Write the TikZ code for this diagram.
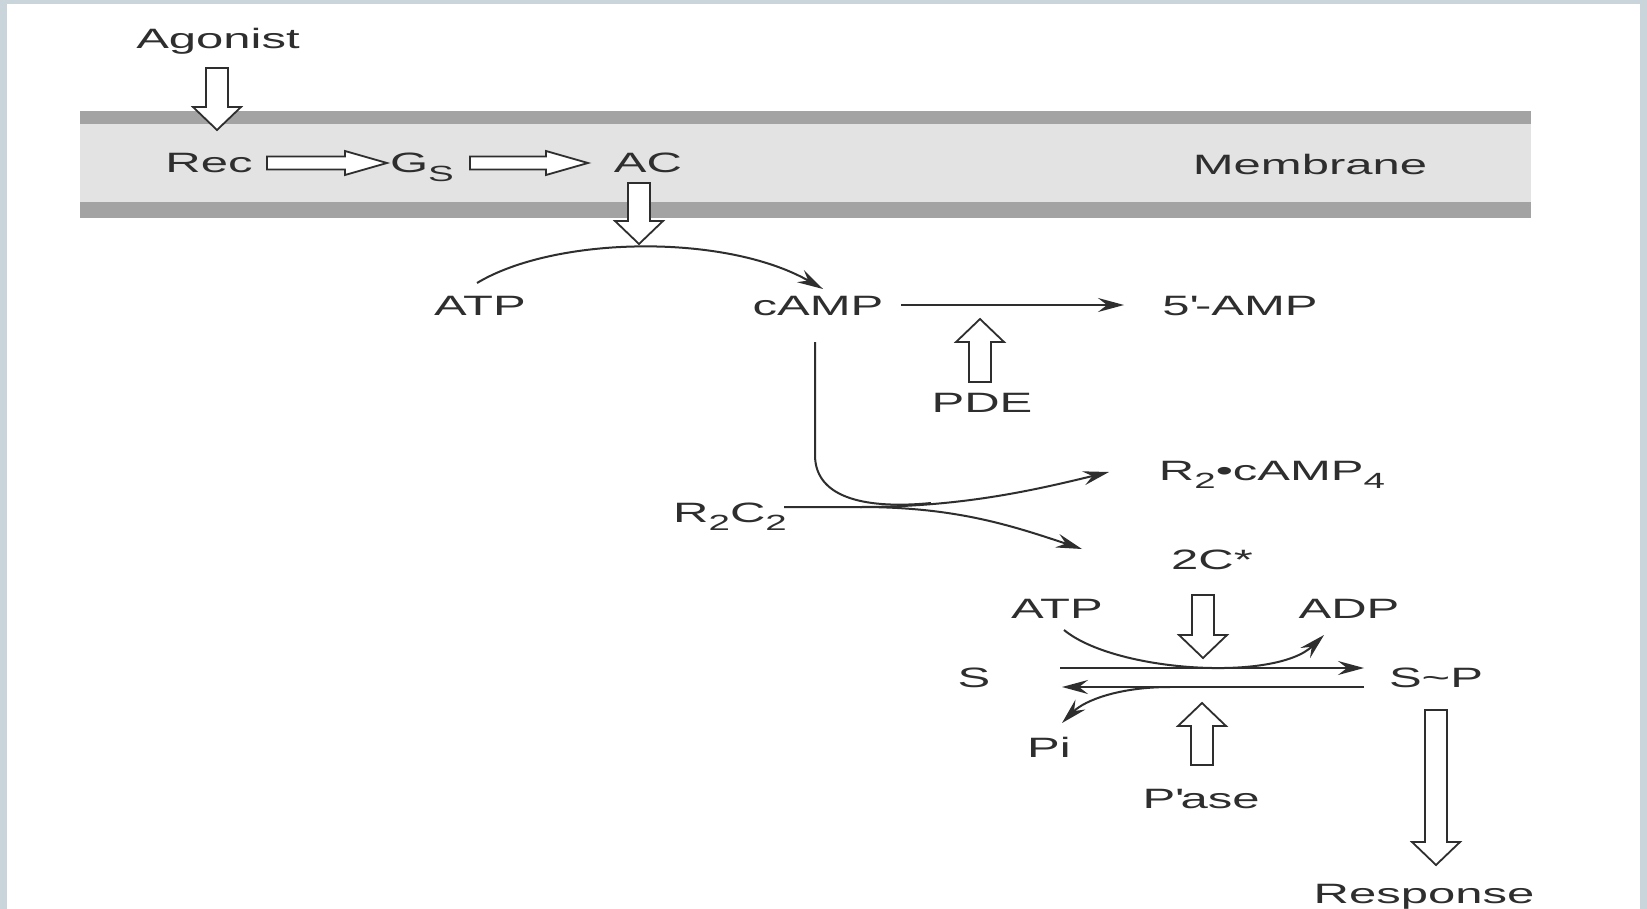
\documentclass[tikz,border=0pt]{standalone}
\usepackage{fontspec}
\setmainfont[FakeStretch=1.75]{Liberation Sans}
\usepackage{xcolor}
\usetikzlibrary{arrows.meta,positioning,calc}

\definecolor{framegrey}{HTML}{C9D4DB}
\definecolor{ink}{HTML}{2E2E2E}
\newcommand{\sub}[1]{\raisebox{-4.2pt}{\fontsize{11}{11}\selectfont #1}}

\begin{document}
\begin{tikzpicture}[
  x=0.5pt, y=-0.5pt,
  font=\fontsize{14}{16}\selectfont,
  lbl/.style={text=ink, inner sep=2pt, anchor=base},
  arr/.style={-{Stealth[length=13pt, width=7pt, inset=4.5pt]}, draw=ink, line width=1pt},
  link/.style={draw=ink, line width=1pt},
  block/.style={draw=ink, fill=white, line width=0.9pt, line join=miter},
  pics/downblock/.style={code={
    \draw[block] (-11,0) -- (11,0) -- (11,#1-23) -- (24,#1-23) -- (0,#1) -- (-24,#1-23) -- (-11,#1-23) -- cycle;
  }},
  pics/rightblock/.style={code={
    \draw[block] (0,-6.5) -- (#1-42,-6.5) -- (#1-42,-12) -- (#1,0) -- (#1-42,12) -- (#1-42,6.5) -- (0,6.5) -- cycle;
  }}
]
  % frame and membrane
  \useasboundingbox (0,0) rectangle (1647,909);
  \fill[framegrey] (0,0) rectangle (1647,909);
  \fill[white] (7,4) rectangle (1640,909);
  \fill[black!11] (80,111) rectangle (1531,218);
  \fill[black!36] (80,111) rectangle (1531,124);
  \fill[black!36] (80,202) rectangle (1531,218);

  % labels
  \node[lbl] (agonist) at (218,49) {Agonist};
  \node[lbl] (rec) at (209,173) {Rec};
  \node[lbl] (gs) at (422,173) {G\sub{S}};
  \node[lbl] (ac) at (648,173) {AC};
  \node[lbl] (membrane) at (1310,175) {Membrane};
  \node[lbl] (atp) at (480,315) {ATP};
  \node[lbl] (camp) at (818,315) {cAMP};
  \node[lbl] (amp) at (1240,315) {5\textquotesingle-AMP};
  \node[lbl] (pde) at (982,412) {PDE};
  \node[lbl] (rcc) at (730,522) {R\sub{2}C\sub{2}};
  \node[lbl] (rcamp) at (1272,480) {R\sub{2}\textbullet cAMP\sub{4}};
  \node[lbl] (cstar) at (1212,569) {2C*};
  \node[lbl] (atpb) at (1057,618) {ATP};
  \node[lbl] (adp) at (1349,618) {ADP};
  \node[lbl] (s) at (974,687) {S};
  \node[lbl] (sp) at (1436,687) {S\textasciitilde P};
  \node[lbl] (pi) at (1049,757) {Pi};
  \node[lbl] (pase) at (1201,808) {P\textquotesingle ase};
  \node[lbl] (response) at (1424,903) {Response};

  % hollow arrows
  \pic at (217,68) {downblock=62};
  \pic at (267,163) {rightblock=120};
  \pic at (470,163) {rightblock=118};
  \pic at (639,183) {downblock=61};
  \pic[yscale=-1] at (980,382) {downblock=63};
  \pic at (1203,595) {downblock=63};
  \pic[yscale=-1] at (1202,765) {downblock=62};
  \pic at (1436,710) {downblock=155};

  % reactions
  \coordinate (split) at ($(rcc.base)+(130,-15)$);
  \coordinate (merge) at (931,503);
  \draw[arr] ($(atp.base)+(-3,-32)$) .. controls +(78,-47) and +(-98,-56) .. ($(camp.base)+(5,-26)$);
  \draw[arr] ($(camp.base)+(83,-10)$) -- ($(amp.base)+(-116,-10)$);
  \draw[link] ($(camp.base)+(-3,27)$) -- ++(0,113) .. controls +(0,45) and +(-61,6) .. (merge);
  \draw[arr] ($(rcc.base)+(54,-15)$) -- (split) .. controls +(100,0) and +(-78,19) .. ($(rcamp.base)+(-163,-8)$);
  \draw[arr] (split) .. controls +(95,0) and +(-72,-24) .. ($(cstar.base)+(-130,-20)$);
  \draw[arr] ($(atpb.base)+(7,12)$) .. controls +(51,42) and +(-49,47) .. ($(adp.base)+(-25,17)$);
  \draw[arr] ($(s.base)+(86,-19)$) -- ($(sp.base)+(-72,-19)$);
  \draw[arr] ($(sp.base)+(-72,0)$) -- ($(s.base)+(88,0)$);
  \draw[arr] ($(sp.base)+(-266,0)$) .. controls +(-50,0) and +(23,-23) .. ($(pi.base)+(13,-34)$);
\end{tikzpicture}
\end{document}
